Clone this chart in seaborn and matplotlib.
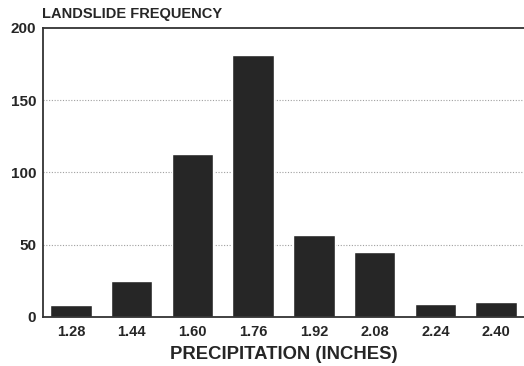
import matplotlib
matplotlib.use('Agg')
import matplotlib.pyplot as plt
import seaborn as sns
import pandas as pd

# Values
precip_labels = ['1.28', '1.44', '1.60', '1.76', '1.92', '2.08', '2.24', '2.40']
frequency = [8, 25, 113, 181, 57, 45, 9, 10]
y_ticks = [0, 50, 100, 150, 200]

sns.set_style('white')
plt.rcParams['font.family'] = ['Liberation Sans', 'DejaVu Sans']

df = pd.DataFrame({'precip': precip_labels, 'freq': frequency})

fig = plt.figure(figsize=(5.24, 3.66), dpi=100)
ax = fig.add_axes([0.082, 0.134, 0.918, 0.79])

# Dotted reference lines behind the bars
for y in y_ticks[1:-1]:
    ax.axhline(y, color='#a0a0a0', lw=0.8, ls=(0, (1, 1.5)), zorder=0)

sns.barplot(data=df, x='precip', y='freq', color='#262626', width=0.68,
            saturation=1, ax=ax, zorder=2)

ax.set_ylim(0, 200)
ax.set_xlim(-0.46, 7.46)
ax.set_yticks(y_ticks)
ax.set_yticklabels([str(t) for t in y_ticks], fontsize=11, fontweight='bold')
ax.set_xticks(range(len(precip_labels)))
ax.set_xticklabels(precip_labels, fontsize=10.5, fontweight='bold')
ax.tick_params(axis='x', length=0, pad=6)
ax.tick_params(axis='y', length=0, pad=5)

ax.set_xlabel('PRECIPITATION (INCHES)', fontsize=13.3, fontweight='bold', labelpad=5)
ax.set_ylabel('')

for side in ['left', 'bottom', 'top']:
    ax.spines[side].set_color('#333333')
    ax.spines[side].set_linewidth(1.3)
ax.spines['right'].set_visible(False)

fig.text(0.081, 1 - 18 / 366, 'LANDSLIDE FREQUENCY', fontsize=10.5, fontweight='bold',
         ha='left', va='baseline')

fig.savefig('out.png', dpi=100)
